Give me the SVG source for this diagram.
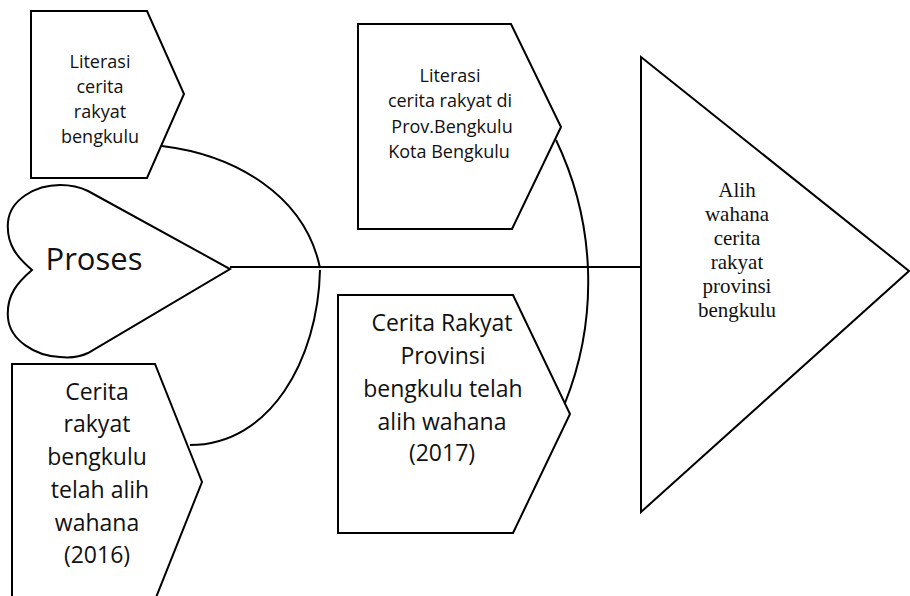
<svg xmlns="http://www.w3.org/2000/svg" width="910" height="596" viewBox="0 0 910 596">
<style>
.shape{fill:#fff;stroke:#000;stroke-width:2;stroke-linejoin:miter}
.conn{fill:none;stroke:#000;stroke-width:2}
.s{font-family:"Open Sans","Noto Sans","Liberation Sans",sans-serif;fill:#111;text-anchor:middle}
.sm{font-size:18px}
.lg{font-size:23px}
.xl{font-size:31px}
.serif{font-family:"Liberation Serif","DejaVu Serif",serif;font-size:21px;fill:#111;text-anchor:middle}
</style>
<rect width="910" height="596" fill="#fff"/>
<g id="connectors">
<line class="conn" x1="230" y1="267" x2="641" y2="267"/>
<path class="conn" d="M162,146 C235,155 305,195 320,268"/>
<path class="conn" d="M320,270 C318,360 270,445 190,445"/>
<path class="conn" d="M556,140 A328,328 0 0 1 565,403"/>
</g>
<g id="literasi-bengkulu">
<polygon class="shape" points="31,11 147,11 184,94 147,178 31,178"/>
<text class="s sm" x="100" y="68">Literasi</text>
<text class="s sm" x="100" y="93">cerita</text>
<text class="s sm" x="100" y="118">rakyat</text>
<text class="s sm" x="100" y="143">bengkulu</text>
</g>
<g id="proses">
<path class="shape" d="M32,270 C18,258 6,245 8,222 C10,200 35,185 60,185 C72,185 82,188 88,191 L230,269 L88,353 C80,357 70,358 60,357 C35,356 10,340 8,318 C6,295 18,282 32,270 Z"/>
<text class="s xl" x="94" y="270">Proses</text>
</g>
<g id="cerita-2016">
<polygon class="shape" points="12,364 155,364 202,482 155,600 12,600"/>
<text class="s lg" x="97" y="400">Cerita</text>
<text class="s lg" x="97" y="432">rakyat</text>
<text class="s lg" x="97" y="465">bengkulu</text>
<text class="s lg" x="100" y="498">telah alih</text>
<text class="s lg" x="97" y="531">wahana</text>
<text class="s lg" x="97" y="563">(2016)</text>
</g>
<g id="literasi-prov">
<polygon class="shape" points="358,24 511,24 561,127 512,229 358,229"/>
<text class="s sm" x="450" y="82">Literasi</text>
<text class="s sm" x="450" y="107">cerita rakyat di</text>
<text class="s sm" x="452" y="133">Prov.Bengkulu</text>
<text class="s sm" x="449" y="158">Kota Bengkulu</text>
</g>
<g id="cerita-2017">
<polygon class="shape" points="338,295 513,295 570,414 513,533 338,533"/>
<text class="s lg" x="442" y="331">Cerita Rakyat</text>
<text class="s lg" x="443" y="364">Provinsi</text>
<text class="s lg" x="443" y="397">bengkulu telah</text>
<text class="s lg" x="442" y="430">alih wahana</text>
<text class="s lg" x="442" y="461">(2017)</text>
</g>
<g id="alih-wahana">
<polygon class="shape" points="641,57 909,271 641,512"/>
<text class="serif" x="737" y="197">Alih</text>
<text class="serif" x="737" y="221">wahana</text>
<text class="serif" x="737" y="245">cerita</text>
<text class="serif" x="737" y="269">rakyat</text>
<text class="serif" x="737" y="293">provinsi</text>
<text class="serif" x="737" y="317">bengkulu</text>
</g>
</svg>
